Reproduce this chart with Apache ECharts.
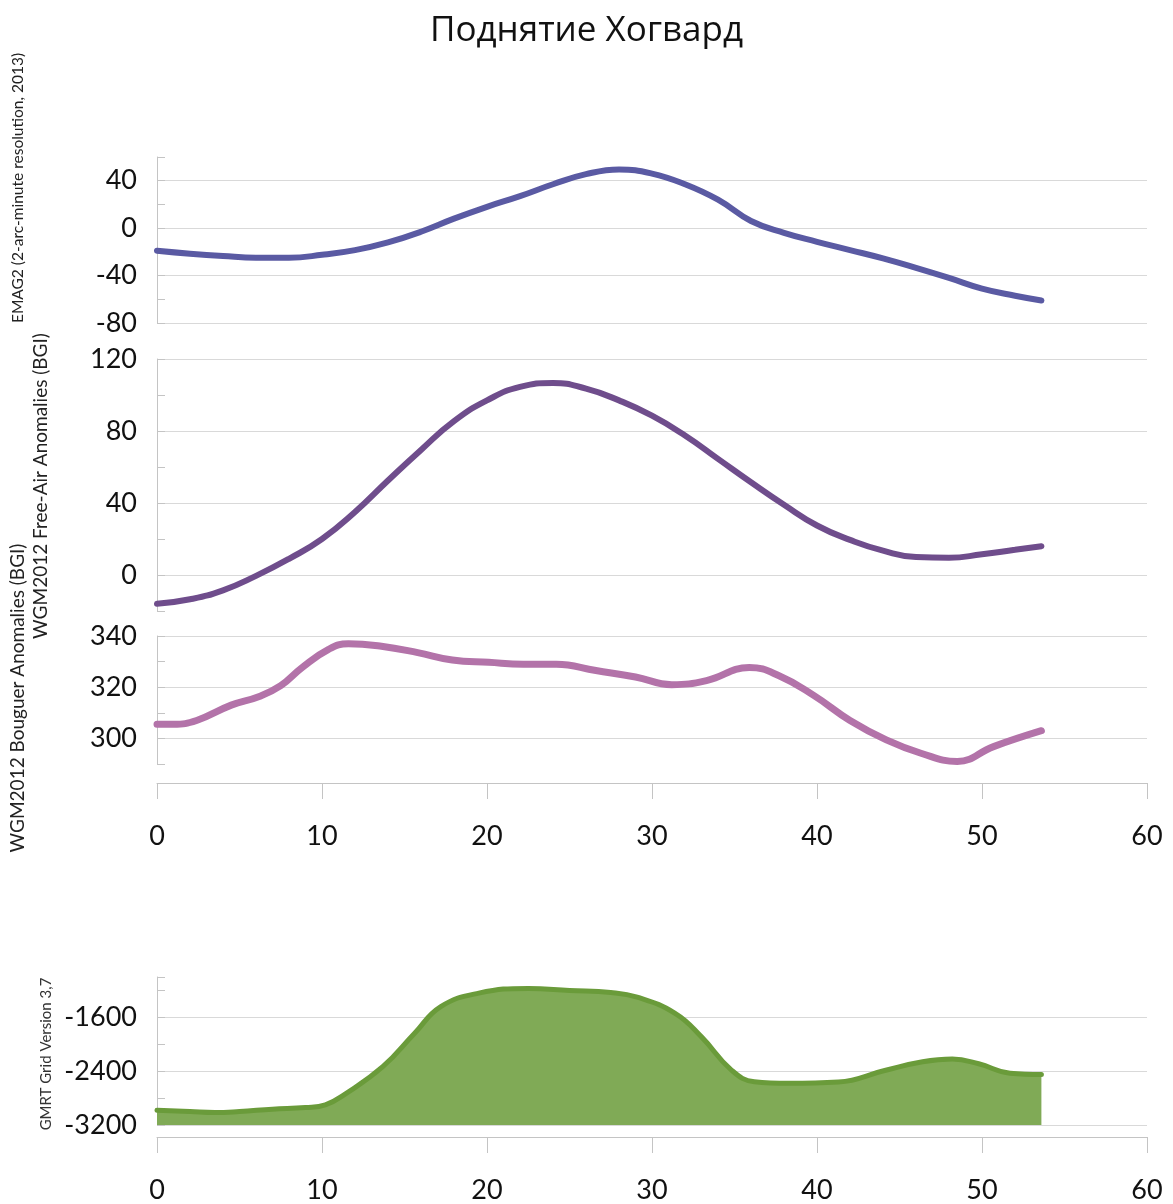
<!DOCTYPE html>
<html>
<head>
<meta charset="utf-8">
<script src="https://cdn.jsdelivr.net/npm/echarts/dist/echarts.min.js"></script>
<style>
html,body{margin:0;padding:0;background:#fff;}
#chart{width:1173px;height:1204px;}
</style>
</head>
<body>
<div id="chart"></div>
<script>
// ---- data ----
const chartTitle = 'Поднятие Хогвард';
const nameEmag = 'EMAG2 (2-arc-minute resolution, 2013)';
const nameFreeAir = 'WGM2012 Free-Air Anomalies (BGI)';
const nameBouguer = 'WGM2012 Bouguer Anomalies (BGI)';
const nameGmrt = 'GMRT Grid Version 3,7';

const emagDist = [0,2,4,6,8,10,12,14,16,18,20,22,24,26,28,30,32,34,36,38,40,42,44,46,48,50,52,53.6];
const emagVal  = [-19,-21.5,-23.5,-25,-25,-22.5,-18.5,-12,-3,8,18,27,37,45.5,49.5,46,37,24,6,-4,-11.5,-18.5,-25.5,-33.5,-42,-51,-57,-61];

const freeAirDist = [0,2,4,6,8,10,12,14,16,18,20,22,24,26,28,30,32,34,36,38,40,42,44,46,48,50,52,53.6];
const freeAirVal  = [-16,-13.5,-8.5,-0.5,9,20,35,52.5,69.5,85.5,97,104.5,106.7,103.5,97,88.5,77.5,64.5,51.5,39,27.5,19.5,13.5,10,9.6,11.5,14,16];

const bouguerDist = [0,1,2.4,4.5,6.2,7.5,8.8,10.4,11.6,13.6,15.8,17.9,20.1,22.2,24.2,26.6,29,31.2,33.3,35.9,37.7,39.8,42,44.2,46.3,48.5,50.7,53.6];
const bouguerVal  = [305.5,305.5,307,313,316.4,320.6,327.7,334.8,337,336,333.5,330.6,329.7,329,329,326.5,324,321,322.6,327.7,324.5,316.8,307,299.4,294.2,291,296.8,303];

const gmrtDist = [0,2,3.5,5,7,9,10.2,11.4,13.7,15.6,17.2,19.5,22.5,25,27.5,29.1,31.4,33,34.8,36.2,38.3,41.3,44.1,46.4,48.2,49.8,51.7,53.6];
const gmrtVal  = [-2980,-3000,-3015,-3000,-2965,-2940,-2900,-2740,-2330,-1840,-1440,-1240,-1170,-1200,-1230,-1300,-1540,-1890,-2380,-2556,-2580,-2560,-2390,-2260,-2220,-2290,-2430,-2450];

// axis settings
const xMin = 0, xMax = 60, xStep = 10;
const emagAxis    = {min:-80, max:60, step:20, labelStep:40};
const freeAirAxis = {min:-20, max:120, step:20, labelStep:40};
const bouguerAxis = {min:290, max:340, step:10, labelStep:20};
const gmrtAxis    = {min:-3200, max:-1000, step:400, labelStep:800};

// ---- helpers ----
const pairs = (xs, ys) => xs.map((x, i) => [x, ys[i]]);
const FONT = 'Lato';
const GRID_C = '#d9d9d9';
const AXIS_C = '#c4c4c4';
const T = 'rgba(0,0,0,0)';

function gridColors(ax){
  const colors = [];
  for (let v = ax.min; v <= ax.max + 1e-9; v += ax.step) {
    colors.push(Math.abs(Math.round(v) % ax.labelStep) === 0 ? GRID_C : T);
  }
  if ((ax.max - ax.min) % ax.step !== 0) colors.push(T);
  return colors;
}

function yAxis(gi, ax){
  return {
    type:'value', gridIndex:gi, min:ax.min, max:ax.max, interval:ax.step,
    axisLine:{show:true, lineStyle:{color:AXIS_C, width:1}},
    axisTick:{show:true, inside:true, length:8, lineStyle:{color:AXIS_C, width:1}},
    axisLabel:{show:true, fontFamily:FONT, fontSize:27, color:'#111', margin:20,
      showMinLabel:true, showMaxLabel:true, hideOverlap:false,
      formatter: v => (Math.abs(Math.round(v) % ax.labelStep) === 0 ? String(v) : '')},
    splitLine:{show:true, lineStyle:{color:gridColors(ax), width:1}}
  };
}

function xAxis(gi, shown, offset){
  return {
    type:'value', gridIndex:gi, min:xMin, max:xMax, interval:xStep, show:shown, offset:offset||0,
    axisLine:{show:true, onZero:false, lineStyle:{color:AXIS_C, width:1}},
    axisTick:{show:true, inside:false, length:16, lineStyle:{color:AXIS_C, width:1}},
    axisLabel:{show:true, fontFamily:FONT, fontSize:27, color:'#111', margin:40, hideOverlap:false},
    splitLine:{show:false}
  };
}

const gridBase = {left:157, right:26, containLabel:false, outerBoundsMode:'none'};

function vText(x, y, text, size, color){
  return {type:'text', x:x, y:y, rotation:Math.PI/2,
    style:{text:text, font:size + 'px Lato', fill:color,
      textAlign:'center', textVerticalAlign:'middle', align:'center', verticalAlign:'middle'}};
}

const option = {
  backgroundColor:'#ffffff',
  animation:false,
  title:{text:chartTitle, left:'center', top:9,
    textStyle:{fontFamily:'Open Sans', fontSize:35, fontWeight:'normal', color:'#111'}},
  grid:[
    Object.assign({top:157, height:166}, gridBase),
    Object.assign({top:359, height:252}, gridBase),
    Object.assign({top:636, height:128}, gridBase),
    Object.assign({top:977, height:148}, gridBase)
  ],
  xAxis:[ xAxis(0,false), xAxis(1,false), xAxis(2,true,19), xAxis(3,true,12) ],
  yAxis:[ yAxis(0,emagAxis), yAxis(1,freeAirAxis), yAxis(2,bouguerAxis), yAxis(3,gmrtAxis) ],
  series:[
    {type:'line', name:nameEmag, xAxisIndex:0, yAxisIndex:0, data:pairs(emagDist, emagVal),
      smooth:0.45, showSymbol:false, symbol:'none',
      lineStyle:{color:'#5a5aa3', width:6, cap:'round', join:'round'}},
    {type:'line', name:nameFreeAir, xAxisIndex:1, yAxisIndex:1, data:pairs(freeAirDist, freeAirVal),
      smooth:0.5, showSymbol:false, symbol:'none',
      lineStyle:{color:'#6f4d8c', width:6, cap:'round', join:'round'}},
    {type:'line', name:nameBouguer, xAxisIndex:2, yAxisIndex:2, data:pairs(bouguerDist, bouguerVal),
      smooth:0.45, showSymbol:false, symbol:'none',
      lineStyle:{color:'#b373a9', width:7, cap:'round', join:'round'}},
    {type:'line', name:nameGmrt, xAxisIndex:3, yAxisIndex:3, data:pairs(gmrtDist, gmrtVal),
      smooth:0.45, showSymbol:false, symbol:'none',
      lineStyle:{color:'#6a9b3a', width:5, cap:'round', join:'round'},
      areaStyle:{color:'#80aa56', opacity:1, origin:'start'}}
  ],
  graphic:[
    vText(18, 188, nameEmag, 15.5, '#222'),
    vText(41, 486, nameFreeAir, 19, '#222'),
    vText(18, 698, nameBouguer, 19, '#222'),
    vText(46, 1054, nameGmrt, 15, '#333')
  ]
};

const chart = echarts.init(document.getElementById('chart'), null, {renderer:'canvas'});
chart.setOption(option);
</script>
</body>
</html>
